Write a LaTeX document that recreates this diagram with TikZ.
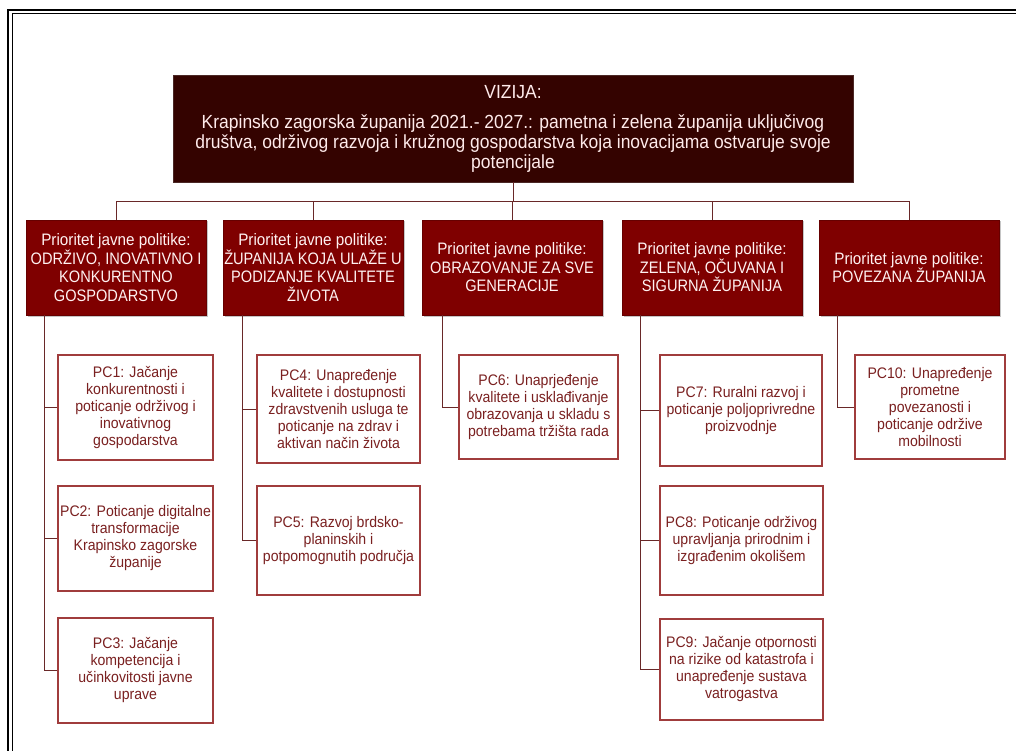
\documentclass[tikz,border=0pt]{standalone}
\usepackage{fontspec}
\setmainfont{Liberation Sans}[FakeStretch=0.92]
\newfontfamily\capsfont{Liberation Sans}[FakeStretch=0.88]
\usetikzlibrary{shadows}
\definecolor{topfill}{RGB}{52,3,0}
\definecolor{prifill}{RGB}{127,0,0}
\definecolor{childborder}{RGB}{160,60,60}
\definecolor{childtext}{RGB}{122,32,32}
\definecolor{conn}{RGB}{105,40,40}
\newcommand{\cps}[1]{{\capsfont #1}}
\tikzset{
  topbox/.style={draw=topfill!70!gray, fill=topfill, text=white!92!red, align=center,
    minimum width=680pt, minimum height=107pt, inner sep=0pt,
    font=\fontsize{19}{20}\selectfont},
  pribox/.style={draw=prifill!80!black, fill=prifill, text=white!95!red, align=center,
    minimum width=180pt, minimum height=95pt, inner sep=0pt,
    font=\fontsize{16.6}{18.5}\selectfont,
    drop shadow={shadow xshift=1.5pt, shadow yshift=-1.5pt, opacity=0.45, fill=gray}},
  childbox/.style={draw=childborder, line width=1.1pt, fill=white, text=childtext, align=center,
    inner sep=0pt, font=\fontsize{15.3}{17}\selectfont,
    drop shadow={shadow xshift=1pt, shadow yshift=-1pt, opacity=0.3, fill=red!40!gray}},
  conline/.style={draw=conn, line width=0.9pt},
}
\begin{document}
\begin{tikzpicture}[x=1pt,y=-1pt]
\useasboundingbox (0,0) rectangle (1016,751);
\fill[white] (0,0) rectangle (1016,751);
% frame
\draw[line width=2.2pt] (8,760) -- (8,10) -- (1030,10);
\draw[line width=0.9pt] (12,760) -- (12,13.5) -- (1030,13.5);

\node[topbox] (top) at (513,128.5) {VIZIJA:\\[10pt]
Krapinsko zagorska županija 2021.- 2027.: pametna i zelena županija uključivog\\
društva, održivog razvoja i kružnog gospodarstva koja inovacijama ostvaruje svoje\\
potencijale};

\node[pribox] (p1) at (116,267.5) {Prioritet javne politike:\\\cps{ODRŽIVO, INOVATIVNO I}\\\cps{KONKURENTNO}\\\cps{GOSPODARSTVO}};
\node[pribox] (p2) at (313,267.5) {Prioritet javne politike:\\\cps{ŽUPANIJA KOJA ULAŽE U}\\\cps{PODIZANJE KVALITETE}\\\cps{ŽIVOTA}};
\node[pribox] (p3) at (512,267.5) {Prioritet javne politike:\\\cps{OBRAZOVANJE ZA SVE}\\\cps{GENERACIJE}};
\node[pribox] (p4) at (712,267.5) {Prioritet javne politike:\\\cps{ZELENA, OČUVANA I}\\\cps{SIGURNA ŽUPANIJA}};
\node[pribox] (p5) at (909,267.5) {Prioritet javne politike:\\\cps{POVEZANA ŽUPANIJA}};

\coordinate (bus) at (513,201.5);
\draw[conline] (top.south) -- (bus);
\foreach \p in {p1,p2,p3,p4,p5} { \draw[conline] (bus) -| (\p.north); }

\node[childbox, minimum width=155pt, minimum height=105pt] (pc1) at (135.5,407.5) {PC1: Jačanje\\konkurentnosti i\\poticanje održivog i\\inovativnog\\gospodarstva};
\node[childbox, minimum width=155pt, minimum height=105pt] (pc2) at (135.5,538.5) {PC2: Poticanje digitalne\\transformacije\\Krapinsko zagorske\\županije};
\node[childbox, minimum width=155pt, minimum height=105pt] (pc3) at (135.5,670.5) {PC3: Jačanje\\kompetencija i\\učinkovitosti javne\\uprave};
\node[childbox, minimum width=163pt, minimum height=108pt] (pc4) at (338.5,409) {PC4: Unapređenje\\kvalitete i dostupnosti\\zdravstvenih usluga te\\poticanje na zdrav i\\aktivan način života};
\node[childbox, minimum width=163pt, minimum height=109pt] (pc5) at (338.5,540.5) {PC5: Razvoj brdsko-\\planinskih i\\potpomognutih područja};
\node[childbox, minimum width=159pt, minimum height=104pt] (pc6) at (538.5,407) {PC6: Unaprjeđenje\\kvalitete i usklađivanje\\obrazovanja u skladu s\\potrebama tržišta rada};
\node[childbox, minimum width=162pt, minimum height=111pt] (pc7) at (741,410.5) {PC7: Ruralni razvoj i\\poticanje poljoprivredne\\proizvodnje};
\node[childbox, minimum width=163pt, minimum height=109pt] (pc8) at (741.5,540.5) {PC8: Poticanje održivog\\upravljanja prirodnim i\\izgrađenim okolišem};
\node[childbox, minimum width=163pt, minimum height=101pt] (pc9) at (741.5,669.5) {PC9: Jačanje otpornosti\\na rizike od katastrofa i\\unapređenje sustava\\vatrogastva};
\node[childbox, minimum width=150pt, minimum height=104pt] (pc10) at (930,407) {PC10: Unapređenje\\prometne\\povezanosti i\\poticanje održive\\mobilnosti};

\coordinate (s1) at (44,315);
\coordinate (s2) at (242,315);
\coordinate (s3) at (442,315);
\coordinate (s4) at (640,315);
\coordinate (s5) at (837,315);
\draw[conline] (s1) |- (pc1.west);
\draw[conline] (s1) |- (pc2.west);
\draw[conline] (s1) |- (pc3.west);
\draw[conline] (s2) |- (pc4.west);
\draw[conline] (s2) |- (pc5.west);
\draw[conline] (s3) |- (pc6.west);
\draw[conline] (s4) |- (pc7.west);
\draw[conline] (s4) |- (pc8.west);
\draw[conline] (s4) |- (pc9.west);
\draw[conline] (s5) |- (pc10.west);
\end{tikzpicture}
\end{document}
